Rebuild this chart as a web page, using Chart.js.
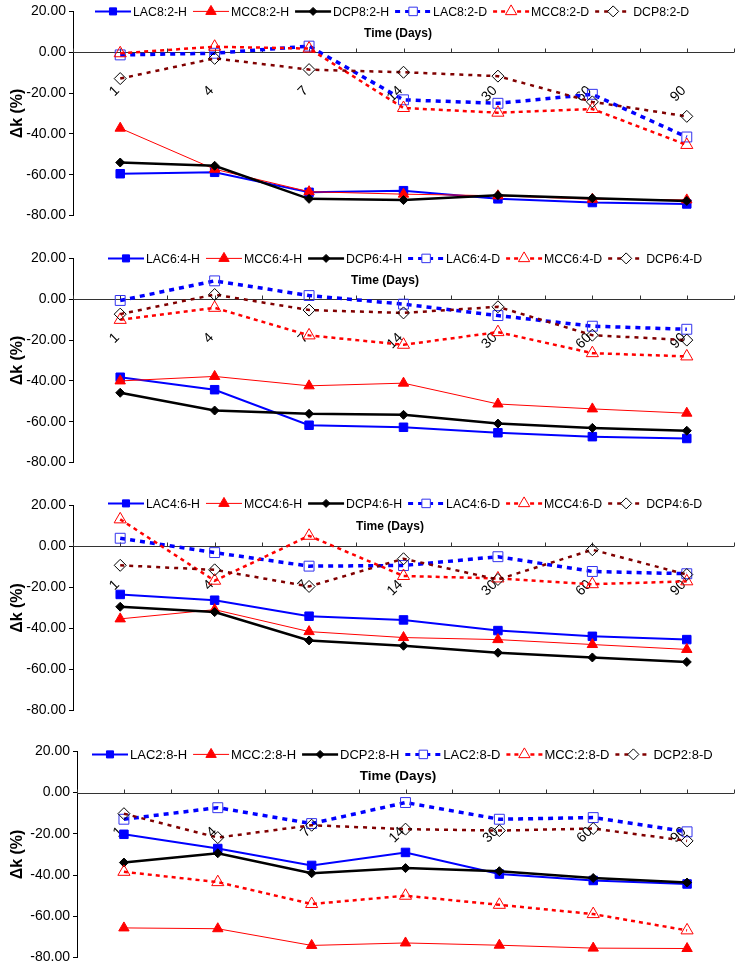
<!DOCTYPE html>
<html>
<head>
<meta charset="utf-8">
<script src="https://cdn.jsdelivr.net/npm/chart.js@4.4.1/dist/chart.umd.min.js"></script>
<style>
  body { margin: 0; background: #fff; }
  #wrap { position: relative; width: 742px; height: 967px; }
  canvas { position: absolute; left: 0; }
</style>
</head>
<body>
<div id="wrap">
  <canvas id="c1" width="742" height="227" style="top:0px"></canvas>
  <canvas id="c2" width="742" height="227" style="top:247px"></canvas>
  <canvas id="c3" width="742" height="228" style="top:494px"></canvas>
  <canvas id="c4" width="742" height="229" style="top:740px"></canvas>
</div>
<script>
// Time points (days)
const days = ['1', '4', '7', '14', '30', '60', '90'];

// --- Panel 1 : ratio 8:2 ---
const names82 = ['LAC8:2-H', 'MCC8:2-H', 'DCP8:2-H', 'LAC8:2-D', 'MCC8:2-D', 'DCP8:2-D'];
const lac82H = [-59.5, -58.8, -68.6, -67.8, -71.8, -73.6, -74.3];
const mcc82H = [-37.2, -57.3, -68.3, -69.5, -70.3, -72.0, -72.3];
const dcp82H = [-54.0, -55.6, -71.8, -72.4, -70.0, -71.5, -72.8];
const lac82D = [-1.3, -0.5, 3.0, -23.3, -25.0, -20.6, -41.5];
const mcc82D = [-0.5, 2.7, 1.8, -27.3, -29.6, -27.8, -45.4];
const dcp82D = [-12.9, -3.0, -8.5, -9.8, -11.7, -24.3, -31.4];

// --- Panel 2 : ratio 6:4 ---
const names64 = ['LAC6:4-H', 'MCC6:4-H', 'DCP6:4-H', 'LAC6:4-D', 'MCC6:4-D', 'DCP6:4-D'];
const lac64H = [-38.2, -44.3, -61.7, -62.7, -65.4, -67.3, -68.2];
const mcc64H = [-40.0, -37.8, -42.4, -41.1, -51.3, -53.7, -55.8];
const dcp64H = [-45.8, -54.5, -56.1, -56.6, -60.9, -63.0, -64.4];
const lac64D = [-0.6, 9.0, 1.8, -2.4, -8.0, -13.2, -14.7];
const mcc64D = [-10.1, -4.2, -17.7, -22.3, -16.1, -26.4, -28.0];
const dcp64D = [-7.3, 2.3, -5.3, -6.7, -3.7, -17.6, -20.0];

// --- Panel 3 : ratio 4:6 ---
const names46 = ['LAC4:6-H', 'MCC4:6-H', 'DCP4:6-H', 'LAC4:6-D', 'MCC4:6-D', 'DCP4:6-D'];
const lac46H = [-23.4, -26.2, -34.0, -35.8, -41.0, -43.8, -45.4];
const mcc46H = [-35.3, -30.8, -41.5, -44.4, -45.4, -47.8, -50.2];
const dcp46H = [-29.4, -32.0, -45.8, -48.4, -51.8, -54.1, -56.3];
const lac46D = [4.0, -3.0, -9.6, -9.3, -5.0, -12.2, -13.3];
const mcc46D = [13.2, -16.7, 5.2, -14.4, -15.6, -18.4, -17.0];
const dcp46D = [-9.2, -11.4, -19.5, -6.0, -16.1, -1.6, -13.7];

// --- Panel 4 : ratio 2:8 ---
const names28 = ['LAC2:8-H', 'MCC:2:8-H', 'DCP2:8-H', 'LAC2:8-D', 'MCC:2:8-D', 'DCP2:8-D'];
const lac28H = [-20.2, -27.1, -35.3, -29.0, -39.5, -42.6, -44.3];
const mcc28H = [-65.6, -66.0, -74.1, -72.9, -74.0, -75.4, -75.6];
const dcp28H = [-33.9, -29.4, -39.1, -36.6, -38.1, -41.4, -43.6];
const lac28D = [-12.9, -7.3, -15.0, -4.8, -12.9, -12.1, -19.0];
const mcc28D = [-38.4, -43.4, -54.0, -50.0, -54.4, -58.9, -66.8];
const dcp28D = [-10.2, -21.8, -15.8, -17.7, -18.4, -17.4, -23.4];

const FONT = '"Liberation Sans", Arial, sans-serif';

// series looks (same order in every panel)
const looks = [
  { line: '#0000FF', width: 2,   dash: [],     shape: 'rect',     r: 6,   fill: '#0000FF', edge: '#0000FF', lr: 5 },
  { line: '#FF0000', width: 1,   dash: [],     shape: 'triangle', r: 6,   fill: '#FF0000', edge: '#FF0000', lr: 6 },
  { line: '#000000', width: 2.5, dash: [],     shape: 'rectRot',  r: 4.5, fill: '#000000', edge: '#000000', lr: 4 },
  { line: '#0000FF', width: 3.5, dash: [5, 5], shape: 'rect',     r: 7,   fill: 'rgba(0,0,0,0)', edge: '#3333EE', lr: 6 },
  { line: '#FF0000', width: 2.5, dash: [4, 4], shape: 'triangle', r: 7,   fill: 'rgba(0,0,0,0)', edge: '#FF0000', lr: 6.5 },
  { line: '#800000', width: 2.5, dash: [4, 5], shape: 'rectRot',  r: 6,   fill: 'rgba(0,0,0,0)', edge: '#000000', lr: 5.5 }
];

function marker(ctx, shape, x, y, r, fill, edge) {
  ctx.save();
  ctx.setLineDash([]);
  ctx.lineWidth = 1;
  ctx.fillStyle = fill;
  ctx.strokeStyle = edge;
  ctx.beginPath();
  if (shape === 'rect') {
    const s = r * Math.SQRT1_2;
    ctx.rect(x - s, y - s, 2 * s, 2 * s);
  } else if (shape === 'triangle') {
    ctx.moveTo(x, y - r);
    ctx.lineTo(x + r * 0.866, y + r * 0.5);
    ctx.lineTo(x - r * 0.866, y + r * 0.5);
    ctx.closePath();
  } else {
    ctx.moveTo(x, y - r); ctx.lineTo(x + r, y); ctx.lineTo(x, y + r); ctx.lineTo(x - r, y);
    ctx.closePath();
  }
  ctx.fill();
  ctx.stroke();
  ctx.restore();
}

// axis at zero, rotated day labels, legend, titles
const panelDecor = {
  id: 'panelDecor',
  beforeDatasetsDraw(chart, args, opts) {
    const { ctx, chartArea: a, scales: { x, y } } = chart;
    const y0 = Math.round(y.getPixelForValue(0)) + 0.5;
    const n = chart.data.labels.length;
    const step = (a.right - a.left) / n;
    ctx.save();
    ctx.strokeStyle = '#333';
    ctx.lineWidth = 1;
    ctx.beginPath();
    ctx.moveTo(a.left, y0);
    ctx.lineTo(a.right, y0);
    for (let i = 0; i <= 2 * n; i++) {
      const px = Math.round(a.left + i * step / 2) + 0.5;
      ctx.moveTo(px, y0);
      ctx.lineTo(px, y0 - 4);
    }
    ctx.stroke();

    ctx.fillStyle = '#000';
    ctx.font = '14px ' + FONT;
    ctx.textAlign = 'right';
    ctx.textBaseline = 'middle';
    chart.data.labels.forEach((lab, i) => {
      const px = x.getPixelForValue(i);
      ctx.save();
      ctx.translate(px - 3, y0 + 36);
      ctx.rotate(-Math.PI / 4);
      ctx.fillText(lab, 0, 0);
      ctx.restore();
    });
    ctx.restore();
  },
  afterDraw(chart, args, opts) {
    const { ctx, chartArea: a } = chart;
    ctx.save();
    // legend
    ctx.font = opts.legendFont + 'px ' + FONT;
    ctx.textBaseline = 'middle';
    ctx.textAlign = 'left';
    let lx = opts.legendX;
    const ly = a.top + opts.legendDy;
    chart.data.datasets.forEach((ds, i) => {
      const lk = looks[i];
      ctx.strokeStyle = lk.line;
      ctx.lineWidth = Math.min(lk.width, 3);
      ctx.setLineDash(lk.dash);
      ctx.beginPath();
      ctx.moveTo(lx, ly);
      ctx.lineTo(lx + opts.lineLen, ly);
      ctx.stroke();
      marker(ctx, lk.shape, lx + opts.lineLen / 2, ly, lk.lr,
        lk.fill === 'rgba(0,0,0,0)' ? '#fff' : lk.fill, lk.edge);
      ctx.fillStyle = '#000';
      ctx.fillText(ds.label, lx + opts.lineLen + 2, ly + 1);
      lx += opts.lineLen + 2 + ctx.measureText(ds.label).width + opts.gap;
    });
    // x title
    ctx.font = 'bold ' + opts.titleFont + 'px ' + FONT;
    ctx.textAlign = 'center';
    ctx.fillText('Time (Days)', opts.titleX, a.top + opts.titleDy);
    // y title
    ctx.font = 'bold 16px ' + FONT;
    ctx.translate(18, (a.top + a.bottom) / 2);
    ctx.rotate(-Math.PI / 2);
    ctx.fillText('\u0394k (%)', 0, 0);
    ctx.restore();
  }
};

function makePanel(id, names, series, deco) {
  new Chart(document.getElementById(id), {
    type: 'line',
    data: {
      labels: days,
      datasets: series.map((vals, i) => ({
        label: names[i],
        data: vals,
        order: 5 - i,
        borderColor: looks[i].line,
        borderWidth: looks[i].width,
        borderDash: looks[i].dash,
        pointStyle: looks[i].shape,
        pointRadius: looks[i].r,
        pointBackgroundColor: looks[i].fill,
        pointBorderColor: looks[i].edge,
        pointBorderWidth: 1,
        tension: 0,
        fill: false
      }))
    },
    options: {
      responsive: false,
      animation: false,
      layout: { padding: { top: 10, bottom: 10, left: 0, right: deco.right } },
      plugins: {
        legend: { display: false },
        tooltip: { enabled: false },
        panelDecor: deco
      },
      scales: {
        x: { type: 'category', offset: true, display: false },
        y: {
          min: -80, max: 20,
          afterFit: (s) => { s.width = deco.axisW; },
          border: { color: '#000', width: 1 },
          grid: { drawOnChartArea: false, drawTicks: true, tickLength: 4, color: '#000' },
          ticks: {
            stepSize: 20, padding: 3, color: '#000',
            font: { family: FONT, size: 14 },
            callback: (v) => v.toFixed(2)
          }
        }
      }
    },
    plugins: [panelDecor]
  });
}

makePanel('c1', names82, [lac82H, mcc82H, dcp82H, lac82D, mcc82D, dcp82D],
  { axisW: 73, right: 4, legendX: 95, legendFont: 12.3, lineLen: 36, gap: 6, legendDy: 0, titleFont: 12, titleX: 398, titleDy: 22 });
makePanel('c2', names64, [lac64H, mcc64H, dcp64H, lac64D, mcc64D, dcp64D],
  { axisW: 73, right: 4, legendX: 108, legendFont: 12.3, lineLen: 36, gap: 6, legendDy: 0, titleFont: 12, titleX: 385, titleDy: 22 });
makePanel('c3', names46, [lac46H, mcc46H, dcp46H, lac46D, mcc46D, dcp46D],
  { axisW: 73, right: 4, legendX: 108, legendFont: 12.3, lineLen: 36, gap: 6, legendDy: -2, titleFont: 12, titleX: 390, titleDy: 21 });
makePanel('c4', names28, [lac28H, mcc28H, dcp28H, lac28D, mcc28D, dcp28D],
  { axisW: 77, right: 2, legendX: 92, legendFont: 13, lineLen: 36, gap: 6, legendDy: 3, titleFont: 13.5, titleX: 398, titleDy: 25 });
</script>
</body>
</html>
